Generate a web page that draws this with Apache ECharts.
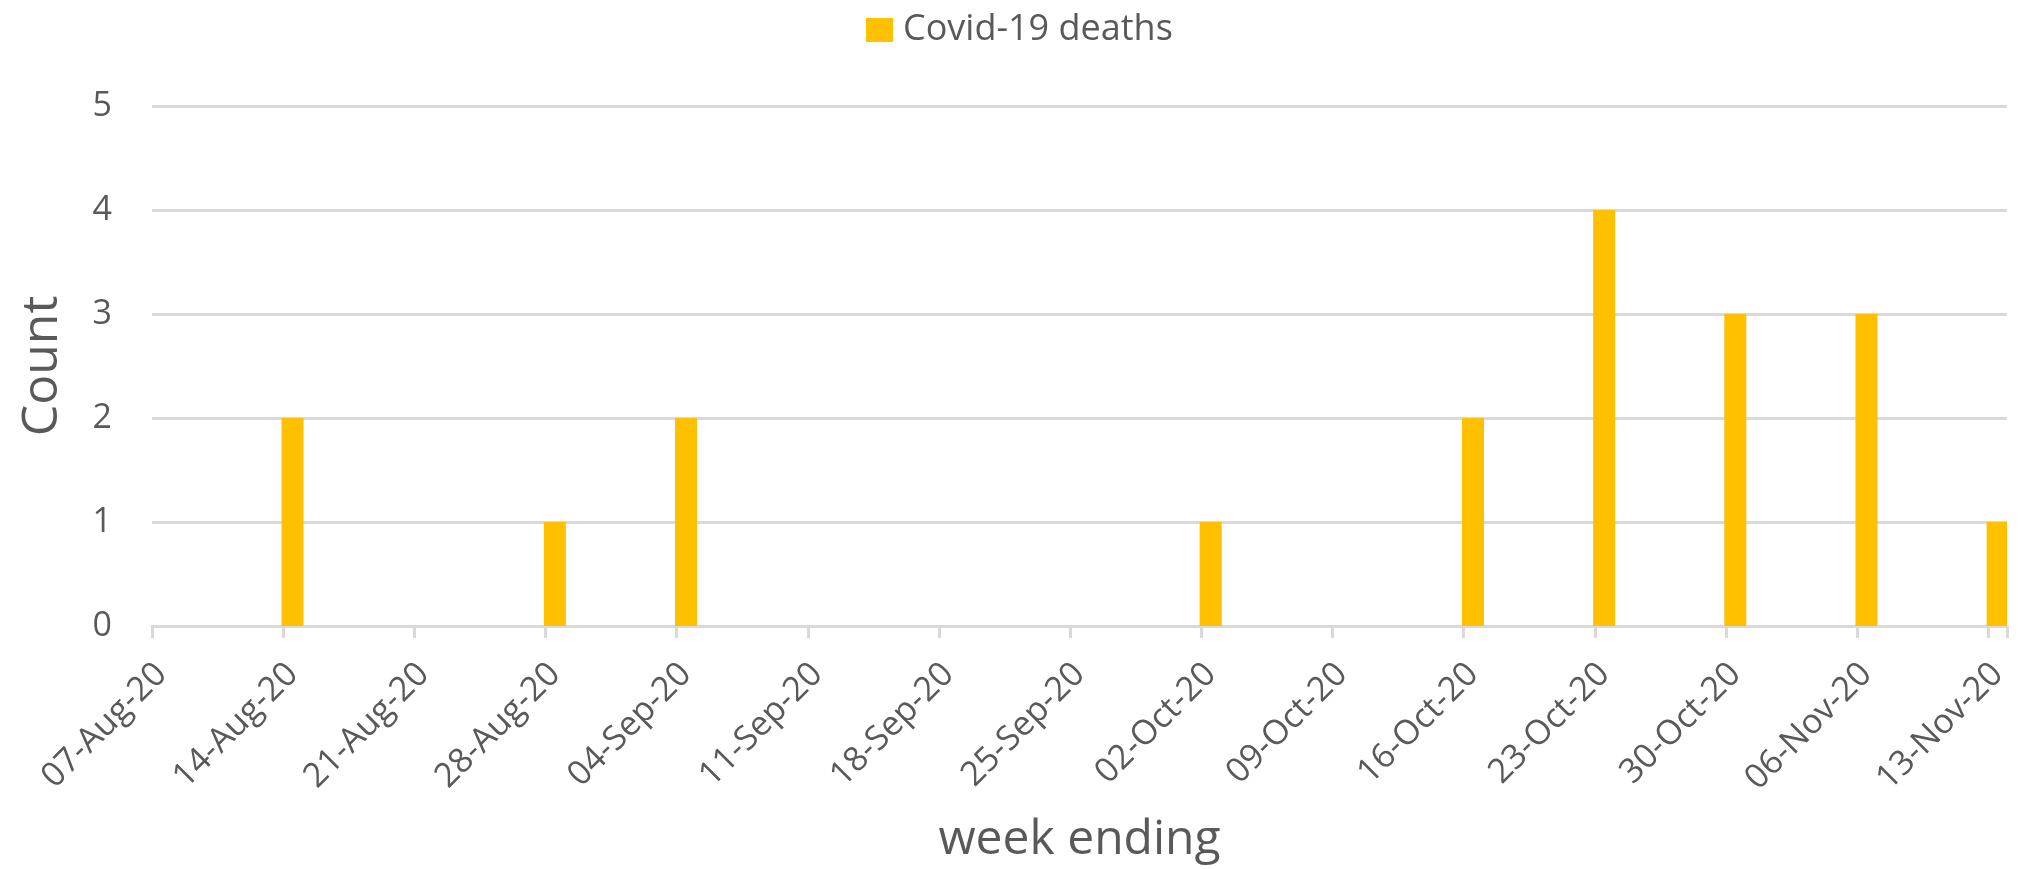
<!DOCTYPE html>
<html>
<head>
<meta charset="utf-8">
<script src="https://cdn.jsdelivr.net/npm/echarts@6/dist/echarts.min.js"></script>
<style>
html,body{margin:0;padding:0;background:#fff;}
#chart{width:2018px;height:869px;}
</style>
</head>
<body>
<div id="chart"></div>
<script>
// Data
const seriesName = 'Covid-19 deaths';
const weekEnding = ['07-Aug-20','14-Aug-20','21-Aug-20','28-Aug-20','04-Sep-20','11-Sep-20','18-Sep-20','25-Sep-20','02-Oct-20','09-Oct-20','16-Oct-20','23-Oct-20','30-Oct-20','06-Nov-20','13-Nov-20'];
const deaths = [0, 2, 0, 1, 2, 0, 0, 0, 1, 0, 2, 4, 3, 3, 1];
const yTicks = [0, 1, 2, 3, 4, 5];

// Build a daily date axis (like Excel's date axis with base unit days)
const MONTHS = ['Jan','Feb','Mar','Apr','May','Jun','Jul','Aug','Sep','Oct','Nov','Dec'];
function parseLabel(s){
  const p = s.split('-');
  return Date.UTC(2000 + Number(p[2]), MONTHS.indexOf(p[1]), Number(p[0]));
}
function fmt(t){
  const d = new Date(t);
  const dd = String(d.getUTCDate()).padStart(2,'0');
  const yy = String(d.getUTCFullYear() % 100).padStart(2,'0');
  return dd + '-' + MONTHS[d.getUTCMonth()] + '-' + yy;
}
const DAY = 86400000;
const t0 = parseLabel(weekEnding[0]);
const t1 = parseLabel(weekEnding[weekEnding.length - 1]);
const days = [];
for (let t = t0; t <= t1; t += DAY) days.push(fmt(t));
const barData = weekEnding.map((w, i) => [w, deaths[i]]);

const textColor = '#595959';
const font = 'Open Sans';

const chart = echarts.init(document.getElementById('chart'), null, {renderer: 'canvas'});
chart.setOption({
  animation: false,
  backgroundColor: '#ffffff',
  textStyle: {fontFamily: font, color: textColor},
  legend: {
    data: [seriesName],
    top: 7,
    left: 861,
    itemWidth: 27,
    itemHeight: 24,
    itemGap: 10,
    icon: 'rect',
    textStyle: {fontFamily: font, fontSize: 36, color: textColor, padding: [0, 0, 0, 5]}
  },
  grid: {left: 152, right: 11, top: 106, bottom: 243, containLabel: false},
  xAxis: {
    type: 'category',
    data: days,
    boundaryGap: true,
    name: 'week ending',
    nameLocation: 'middle',
    nameGap: 190,
    nameTextStyle: {fontFamily: font, fontSize: 48, color: textColor},
    axisLine: {show: true, lineStyle: {color: '#d9d9d9', width: 3}},
    axisTick: {show: true, interval: 6, length: 12, lineStyle: {color: '#d9d9d9', width: 3}},
    axisLabel: {
      interval: 6,
      rotate: 45,
      margin: 43,
      fontFamily: font,
      fontSize: 34,
      color: textColor
    },
    splitLine: {show: false}
  },
  yAxis: {
    type: 'value',
    min: yTicks[0],
    max: yTicks[yTicks.length - 1],
    interval: 1,
    name: 'Count',
    nameLocation: 'middle',
    nameRotate: 90,
    nameGap: 84,
    nameTextStyle: {fontFamily: font, fontSize: 50, color: textColor},
    axisLine: {show: false},
    axisTick: {show: false},
    axisLabel: {margin: 40, fontFamily: font, fontSize: 34, color: textColor},
    splitLine: {lineStyle: {color: '#d9d9d9', width: 3}}
  },
  series: [{
    name: seriesName,
    type: 'bar',
    data: barData,
    barWidth: 22,
    itemStyle: {color: '#FFC000'}
  }]
});
</script>
</body>
</html>
